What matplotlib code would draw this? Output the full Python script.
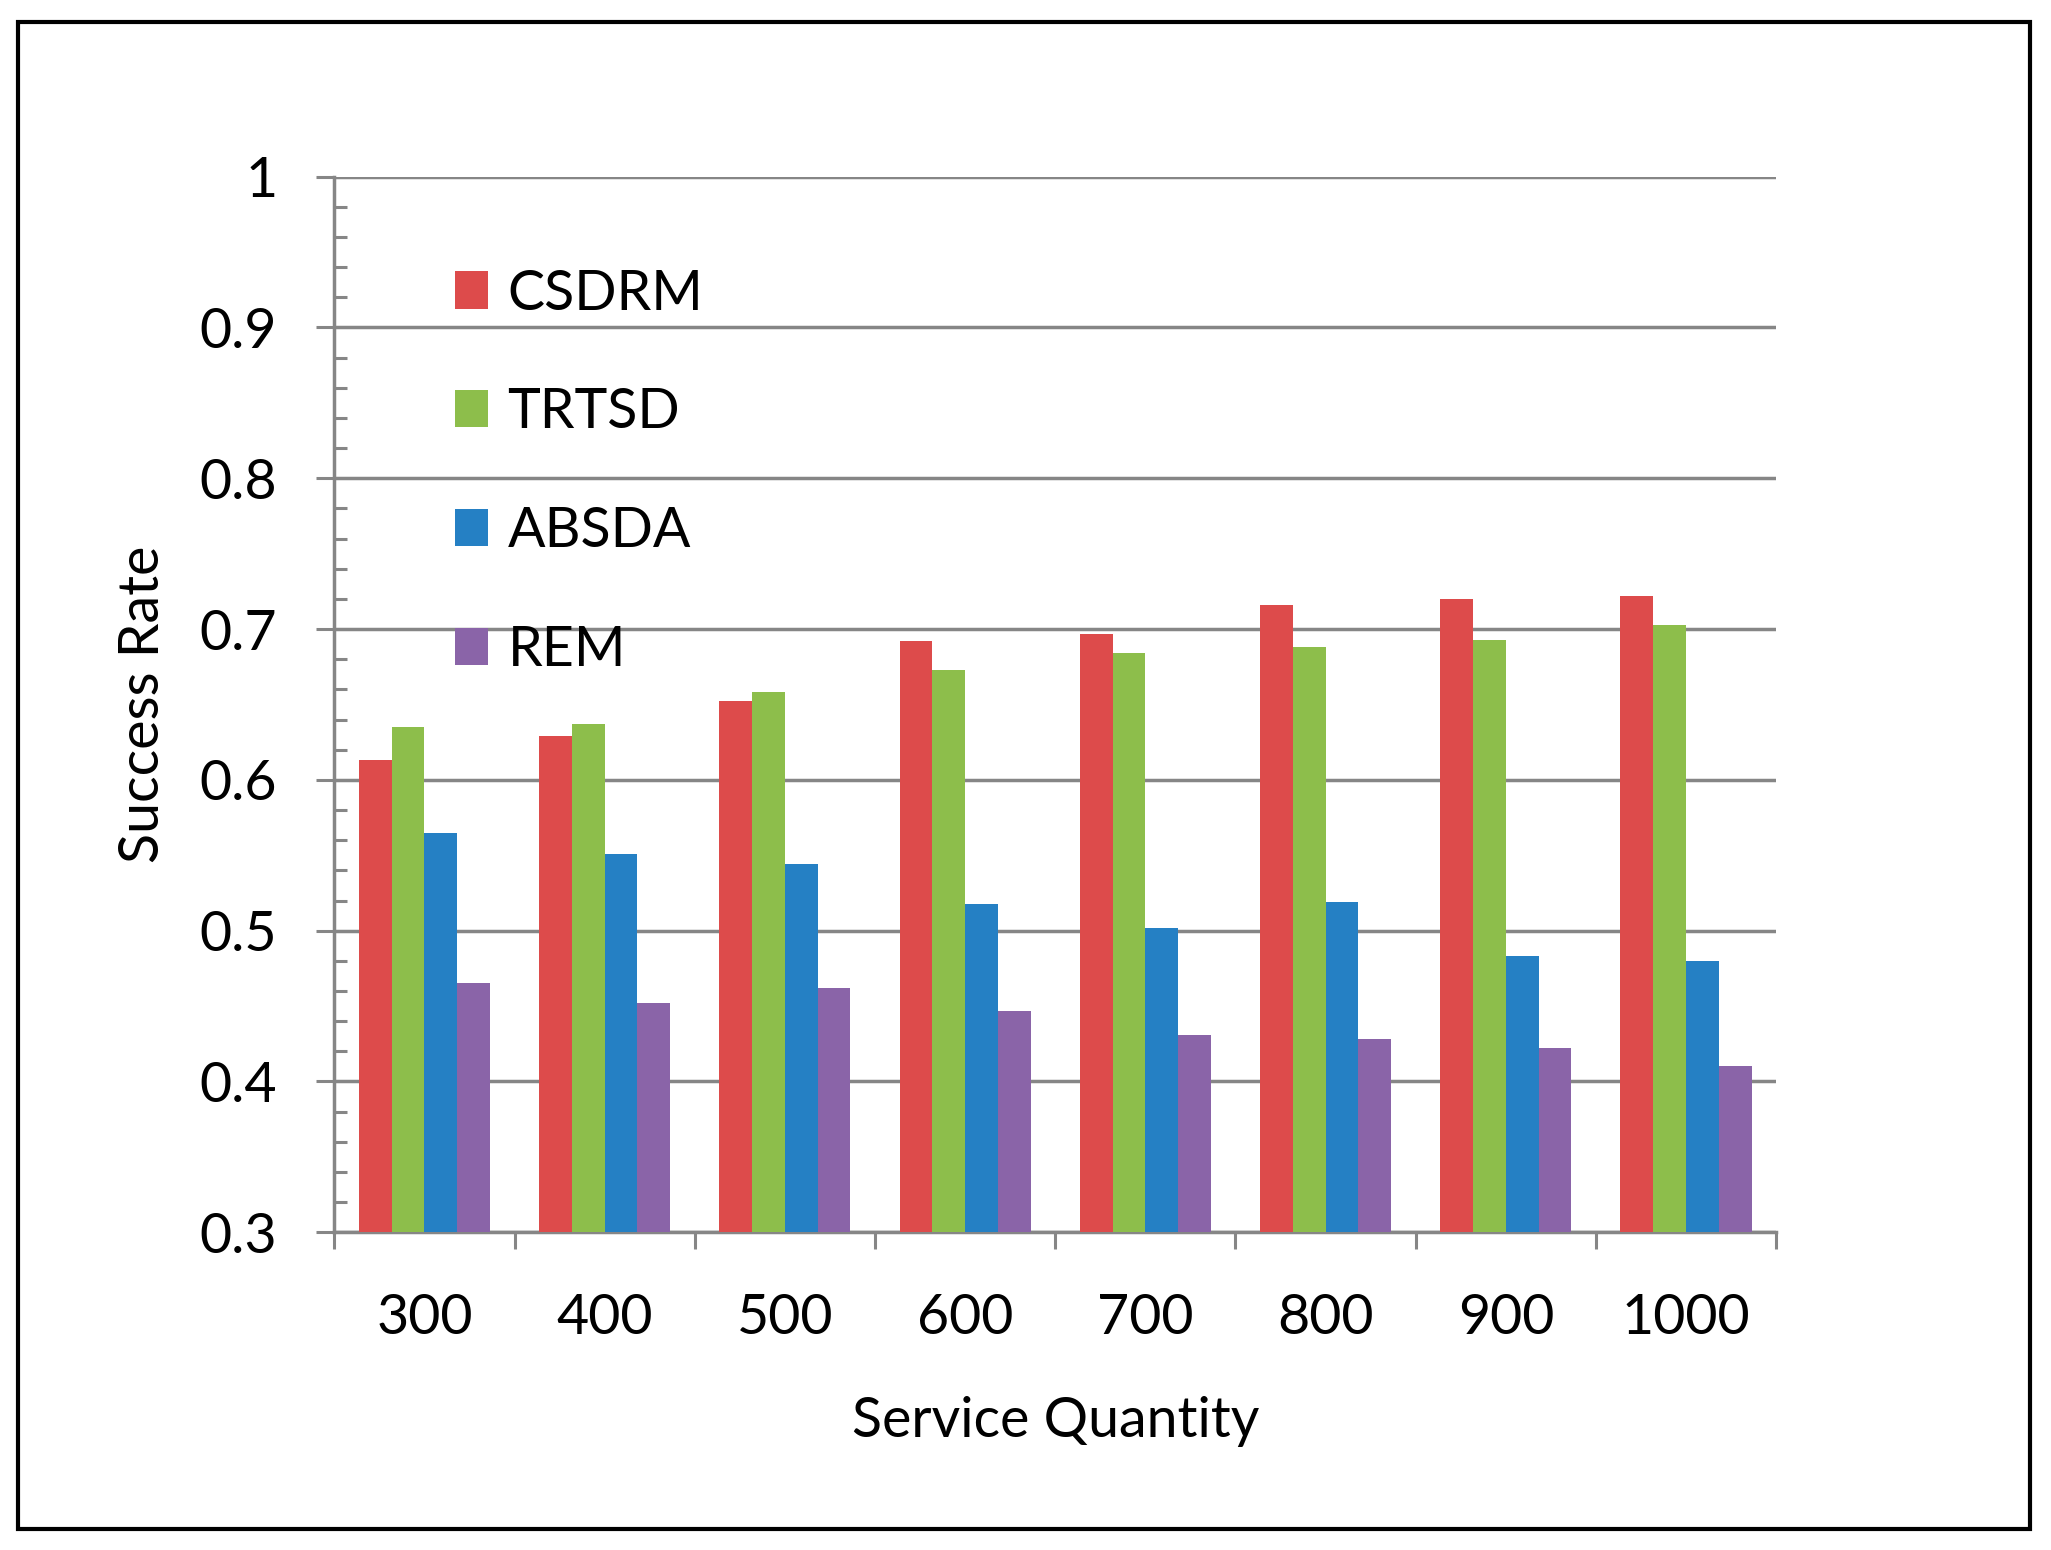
import matplotlib
matplotlib.use("Agg")
import matplotlib.pyplot as plt
from matplotlib.patches import Rectangle, Patch
import numpy as np

plt.rcParams['font.family'] = ['Lato', 'DejaVu Sans']

categories = ['300', '400', '500', '600', '700', '800', '900', '1000']
series_names = ['CSDRM', 'TRTSD', 'ABSDA', 'REM']
csdrm = [0.613, 0.629, 0.652, 0.692, 0.697, 0.716, 0.720, 0.722]
trtsd = [0.635, 0.637, 0.658, 0.673, 0.684, 0.688, 0.693, 0.703]
absda = [0.565, 0.551, 0.544, 0.518, 0.502, 0.519, 0.483, 0.480]
rem = [0.465, 0.452, 0.462, 0.447, 0.431, 0.428, 0.422, 0.410]
yticks = [0.3, 0.4, 0.5, 0.6, 0.7, 0.8, 0.9, 1.0]
ytick_labels = ['0.3', '0.4', '0.5', '0.6', '0.7', '0.8', '0.9', '1']
colors = ['#DD4B4B', '#8DBE4B', '#2580C4', '#8A64A8']

GRAY = '#868686'
FS = 40

fig = plt.figure(figsize=(20.51, 15.5), dpi=100)
ax = fig.add_axes([0.163, 0.205, 0.866 - 0.163, 0.886 - 0.205])

x = np.arange(len(categories))
w = 0.182
offsets = [-1.5 * w, -0.5 * w, 0.5 * w, 1.5 * w]
data = [csdrm, trtsd, absda, rem]
for vals, off, c, name in zip(data, offsets, colors, series_names):
    ax.bar(x + off, np.array(vals) - 0.3, width=w, bottom=0.3, color=c,
           label=name, zorder=3, linewidth=0)

ax.set_ylim(0.3, 1.0)
ax.set_xlim(-0.5, len(categories) - 0.5)

# y axis
ax.set_yticks(yticks)
ax.set_yticklabels(ytick_labels, fontsize=FS)
ax.set_yticks(np.arange(0.3, 1.0001, 0.02), minor=True)
ax.tick_params(axis='y', which='major', direction='out', length=13, width=2.2,
               color=GRAY, pad=28)
ax.tick_params(axis='y', which='minor', direction='in', length=9, width=2.2,
               color=GRAY)
ax.yaxis.grid(True, which='major', color=GRAY, linewidth=2.5, zorder=0)
ax.set_axisbelow(True)

# x axis: boundaries as major ticks, category labels as minor
ax.set_xticks(np.arange(-0.5, len(categories)), labels=[''] * (len(categories) + 1))
ax.set_xticks(x, minor=True, labels=categories)
ax.tick_params(axis='x', which='major', direction='out', length=12, width=2.2,
               color=GRAY)
ax.tick_params(axis='x', which='minor', length=0, pad=44, labelsize=FS)

for s in ['top', 'right']:
    ax.spines[s].set_visible(False)
for s in ['left', 'bottom']:
    ax.spines[s].set_color(GRAY)
    ax.spines[s].set_linewidth(2.5)

ax.set_ylabel('Success Rate', fontsize=FS)
ax.yaxis.set_label_coords(-0.132, 0.5)
ax.yaxis.label.set_verticalalignment('center')
ax.set_xlabel('Service Quantity', fontsize=FS)
ax.xaxis.set_label_coords(0.5, -0.179)
ax.xaxis.label.set_verticalalignment('center')

handles = [Patch(facecolor=c, edgecolor='none') for c in colors]
ax.legend(handles, series_names, loc='upper left',
          bbox_to_anchor=(0.0835, 0.913), frameon=False, fontsize=FS,
          handlelength=0.6, handleheight=0.65, handletextpad=0.35,
          labelspacing=1.22, borderpad=0, borderaxespad=0)

fig.patches.append(Rectangle((0.0088, 0.0135), 0.990 - 0.0088, 0.986 - 0.0135,
                             transform=fig.transFigure, fill=False,
                             edgecolor='black', linewidth=3))

fig.savefig('out.png', dpi=100, facecolor='white')
